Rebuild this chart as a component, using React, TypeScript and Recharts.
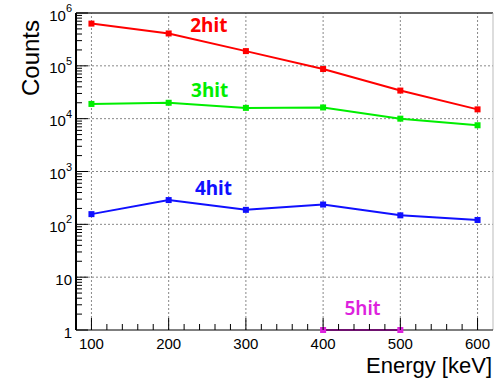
import { LineChart, Line, XAxis, YAxis, ReferenceLine, ReferenceDot } from 'recharts';

const energies = [100, 200, 300, 400, 500, 600];
const hit2 = [630000, 410000, 190000, 87000, 34000, 15000];
const hit3 = [19000, 20000, 16000, 16300, 10000, 7500];
const hit4 = [156, 288, 188, 237, 148, 121];
const hit5 = [null, null, null, 1, 1, null];

const seriesNames = ['2hit', '3hit', '4hit', '5hit'];
const seriesColors = ['#ff0000', '#00ee00', '#1010ff', '#dd22dd'];

// where the series names sit (data units)
const labelX = [252, 253, 258, 451];
const labelY = [600000, 35000, 490, 2.6];

const xMajor = [100, 200, 300, 400, 500, 600];
const yMajor = [1, 10, 100, 1000, 10000, 100000, 1000000];

const xTicks: number[] = [];
for (let v = 100; v <= 600; v += 20) xTicks.push(v);
const yTicks: number[] = [];
yMajor.slice(0, -1).forEach((d) => {
    for (let k = 1; k < 10; k++) yTicks.push(d * k);
});
yTicks.push(1000000);

const data = energies.map((e, i) => ({
    energy: e,
    hit2: hit2[i],
    hit3: hit3[i],
    hit4: hit4[i],
    hit5: hit5[i],
}));

const FONT = '"Liberation Sans", Arial, sans-serif';

function XTick(props: any) {
    const { x, y, payload } = props;
    const v = payload.value;
    const major = v % 100 === 0;
    return (
        <g>
            <line x1={x} x2={x} y1={y} y2={y - (major ? 12 : 6)} stroke="#000" strokeWidth={1} />
            {major && (
                <text x={x} y={y + 13} textAnchor="middle" dominantBaseline="central" fontSize={15} fontFamily={FONT} fill="#000">
                    {v}
                </text>
            )}
        </g>
    );
}

function YTick(props: any) {
    const { x, y, payload } = props;
    const v = payload.value;
    const lg = Math.log10(v);
    const exp = Math.round(lg);
    const major = Math.abs(lg - exp) < 1e-6;
    let label: any = null;
    if (major) {
        label = (
            <text x={x - 4} y={y + 2} textAnchor="end" dominantBaseline="central" fontSize={15} fontFamily={FONT} fill="#000">
                {exp === 0 ? '1' : exp === 1 ? '10' : (
                    <>
                        10<tspan dy={-7} fontSize={11}>{exp}</tspan>
                    </>
                )}
            </text>
        );
    }
    return (
        <g>
            <line x1={x} x2={x + (major ? 12 : 6)} y1={y} y2={y} stroke="#000" strokeWidth={1} />
            {label}
        </g>
    );
}

function squareDot(color: string) {
    return (p: any) => {
        if (p.cx == null || p.cy == null || p.value == null) return <g key={p.index} />;
        return <rect key={p.index} x={p.cx - 3} y={p.cy - 3} width={6} height={6} fill={color} />;
    };
}

export default function App() {
    const keys = ['hit2', 'hit3', 'hit4', 'hit5'];
    return (
        <div style={{ position: 'fixed', left: 0, top: 0, background: '#fff' }}>
            <LineChart width={494} height={379} data={data} margin={{ top: 13, right: 1, bottom: 0, left: 0 }}>
                {xMajor.map((v) => (
                    <ReferenceLine key={'gx' + v} x={v} stroke="#888" strokeDasharray="2 2" strokeWidth={1} />
                ))}
                {yMajor.slice(1, -1).map((v) => (
                    <ReferenceLine key={'gy' + v} y={v} stroke="#888" strokeDasharray="2 2" strokeWidth={1} />
                ))}
                <ReferenceLine y={1000000} stroke="#333" strokeWidth={1.5} />
                <ReferenceLine x={620} stroke="#bbb" strokeWidth={1} />
                <XAxis
                    dataKey="energy"
                    type="number"
                    domain={[80, 620]}
                    ticks={xTicks}
                    interval={0}
                    height={49}
                    tickSize={0}
                    tickMargin={0}
                    tickLine={false}
                    axisLine={{ stroke: '#000', strokeWidth: 1 }}
                    tick={<XTick />}
                    label={{
                        content: (p: any) => {
                            const vb = p.viewBox;
                            return (
                                <text x={vb.x + vb.width - 1} y={vb.y + 35} textAnchor="end" dominantBaseline="central" fontSize={22} fontFamily={FONT} fill="#000">
                                    Energy [keV]
                                </text>
                            );
                        },
                    }}
                />
                <YAxis
                    type="number"
                    scale="log"
                    domain={[1, 1000000]}
                    ticks={yTicks}
                    interval={0}
                    width={76}
                    tickSize={0}
                    tickMargin={0}
                    tickLine={false}
                    axisLine={{ stroke: '#000', strokeWidth: 2 }}
                    tick={<YTick />}
                    label={{
                        content: (p: any) => {
                            const vb = p.viewBox;
                            const tx = vb.x + 30;
                            const ty = vb.y + 7;
                            return (
                                <text x={tx} y={ty} transform={`rotate(-90 ${tx} ${ty})`} textAnchor="end" dominantBaseline="central" fontSize={24} fontFamily={FONT} fill="#000">
                                    Counts
                                </text>
                            );
                        },
                    }}
                />
                {keys.map((k, i) => (
                    <Line
                        key={k}
                        dataKey={k}
                        stroke={seriesColors[i]}
                        strokeWidth={2}
                        type="linear"
                        dot={squareDot(seriesColors[i])}
                        activeDot={false}
                        isAnimationActive={false}
                        connectNulls={false}
                    />
                ))}
                {seriesNames.map((n, i) => (
                    <ReferenceDot
                        key={n}
                        x={labelX[i]}
                        y={labelY[i]}
                        r={0}
                        shape={(p: any) => (
                            <text x={p.cx} y={p.cy} textAnchor="middle" dominantBaseline="central" fontSize={19} fontWeight={i === 3 ? 600 : 'bold'} fontFamily='"Noto Sans", "Open Sans", sans-serif' fill={seriesColors[i]}>
                                {n}
                            </text>
                        )}
                    />
                ))}
            </LineChart>
        </div>
    );
}
